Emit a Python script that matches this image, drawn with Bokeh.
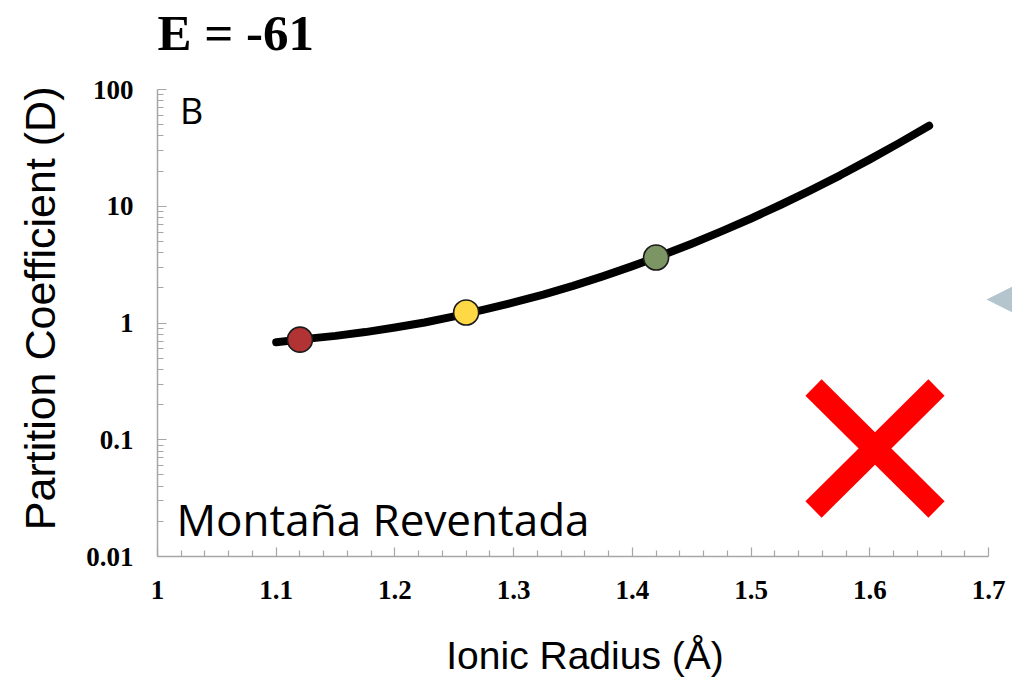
import numpy as np
from bokeh.plotting import figure
from bokeh.models import (FixedTicker, CustomJSTickFormatter, Label, Range1d)
from bokeh.embed import file_html
from bokeh.resources import INLINE

# ---- data ----
curve_radius = [1.100, 1.125, 1.150, 1.175, 1.200, 1.225, 1.250, 1.275, 1.300, 1.325, 1.350,
                1.375, 1.400, 1.425, 1.450, 1.475, 1.500, 1.525, 1.550, 1.575, 1.600, 1.625, 1.650]
curve_D = [0.684, 0.731, 0.776, 0.836, 0.914, 1.01, 1.14, 1.30, 1.50, 1.75, 2.08,
           2.51, 3.07, 3.80, 4.78, 6.09, 7.86, 10.3, 13.7, 18.4, 25.2, 34.9, 49.0]

point_radius = [1.12, 1.26, 1.42]
point_D = [0.72, 1.23, 3.64]
point_colors = ["#B23333", "#FFD845", "#7B9564"]

x_ticks = [1.0, 1.1, 1.2, 1.3, 1.4, 1.5, 1.6, 1.7]
y_ticks = [0.01, 0.1, 1, 10, 100]

# decorations (annotation shapes)
cross_x0 = [1.5526, 1.5526]
cross_y0 = [0.2803, 0.02527]
cross_x1 = [1.6562, 1.6562]
cross_y1 = [0.02527, 0.2803]
arrow_x = [1.6983, 1.7354, 1.7354]
arrow_y = [1.59, 2.455, 1.03]

# frame extends above 100 so the heading can sit inside the canvas area
y_top = 10 ** (2 + 89 / 116.75)
p = figure(width=1012, height=684, y_axis_type="log",
           x_range=Range1d(1.0, 1.7 + 0.7 * 24 / 831), y_range=Range1d(0.01, y_top),
           output_backend="svg", toolbar_location=None,
           min_border_left=157, min_border_right=0, min_border_top=0, min_border_bottom=128)
p.outline_line_color = None
p.xgrid.visible = False
p.ygrid.visible = False
p.background_fill_color = "white"
p.border_fill_color = "white"
p.title.visible = False

# axes
minor_x = [round(1.0 + 0.02 * i, 3) for i in range(36) if i % 5 != 0]
p.xaxis.ticker = FixedTicker(ticks=x_ticks, minor_ticks=minor_x)
minor_y = [k * 10.0 ** e for e in range(-2, 2) for k in range(2, 10)]
p.yaxis.ticker = FixedTicker(ticks=y_ticks, minor_ticks=minor_y)
p.xaxis.bounds = (1.0, 1.7)
p.yaxis.bounds = (0.01, 100)
p.xaxis.formatter = CustomJSTickFormatter(code="return String(Number(tick.toFixed(3)));")
p.yaxis.formatter = CustomJSTickFormatter(code="return String(Number(tick.toPrecision(3)));")

for ax in (p.xaxis[0], p.yaxis[0]):
    ax.axis_line_color = "#a6a6a6"
    ax.axis_line_width = 1.5
    ax.major_tick_line_color = "#a6a6a6"
    ax.minor_tick_line_color = "#a6a6a6"
    ax.major_tick_line_width = 1.2
    ax.minor_tick_line_width = 1.2
    ax.major_tick_in = 9
    ax.major_tick_out = 0
    ax.minor_tick_in = 6
    ax.minor_tick_out = 0
    ax.major_label_text_font = "Liberation Serif"
    ax.major_label_text_font_style = "bold"
    ax.major_label_text_font_size = "27px"
    ax.major_label_text_color = "black"
    ax.axis_label_text_font = "Liberation Sans"
    ax.axis_label_text_font_style = "normal"
    ax.axis_label_text_color = "black"

p.xaxis.axis_label_text_font_size = "39px"
p.yaxis.axis_label_text_font_size = "43px"
p.xaxis.axis_label = "Ionic Radius (Å)"
# trailing no-break spaces keep the title centred on the 0.01-100 span
p.yaxis.axis_label = "Partition Coefficient (D)" + "\u00a0" * 5
p.xaxis.major_label_standoff = 24
p.yaxis.major_label_standoff = 24
p.xaxis.axis_label_standoff = 32
p.yaxis.axis_label_standoff = 19

# curve and points
p.line(curve_radius, curve_D, line_color="black", line_width=8, line_cap="round", line_join="round")
p.scatter(point_radius, point_D, size=25, fill_color=point_colors, line_color="#1a1a1a", line_width=1.6)

# decorations
p.segment(cross_x0, cross_y0, cross_x1, cross_y1, line_color="#FF0000", line_width=23, line_cap="butt")
p.patch(arrow_x, arrow_y, fill_color="#B5C5CD", line_color=None)

p.add_layout(Label(x=1.0, y=302.0, text="E = -61", text_font="Liberation Serif",
                   text_font_style="bold", text_font_size="51px", text_color="black",
                   text_baseline="alphabetic"))
p.add_layout(Label(x=1.019, y=66.0, text="B", text_font="Open Sans", text_font_size="36px",
                   text_color="black", text_baseline="alphabetic"))
p.add_layout(Label(x=1.016, y=0.0211, text="Montaña Reventada", text_font="Open Sans",
                   text_font_size="44px", text_color="black", text_baseline="alphabetic"))

open("out.html", "w").write(file_html(p, INLINE))
